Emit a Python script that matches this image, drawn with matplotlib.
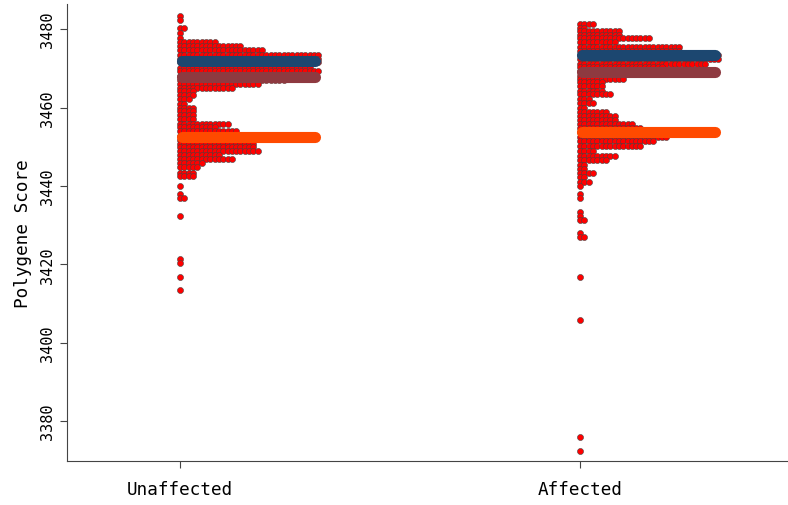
import numpy as np
import matplotlib.pyplot as plt

# stacked dot rows: value of each row and number of dots in it
unaff_vals = [3483.4, 3482.4, 3480.2, 3479.0, 3477.8, 3476.6, 3475.6, 3474.6, 3473.5, 3472.5,
              3471.5, 3470.2, 3469.2, 3468.1, 3467.0, 3466.0, 3465.1, 3464.3, 3463.2, 3462.1,
              3461.0, 3460.0, 3459.0, 3458.0, 3457.0, 3455.9, 3454.9, 3453.9, 3452.8, 3451.8,
              3450.7, 3449.8, 3449.0, 3447.9, 3446.8, 3445.8, 3444.7, 3443.4, 3442.4, 3440.0,
              3437.9, 3436.9, 3432.4, 3421.3, 3420.3, 3416.8, 3413.5]
unaff_counts = [1, 1, 2, 1, 1, 9, 15, 20, 33, 33,
                33, 31, 33, 32, 25, 19, 13, 4, 4, 3,
                2, 4, 4, 4, 4, 12, 9, 14, 18, 18,
                18, 18, 19, 10, 13, 6, 5, 4, 4, 1,
                1, 2, 1, 1, 1, 1, 1]

aff_vals = [3481.4, 3480.4, 3479.4, 3478.5, 3477.7, 3476.7, 3475.5, 3474.5, 3473.4, 3472.3,
            3471.2, 3470.4, 3469.4, 3468.1, 3467.2, 3466.4, 3465.4, 3464.3, 3463.4, 3462.3,
            3461.1, 3460.0, 3458.9, 3457.9, 3456.9, 3455.8, 3454.8, 3453.7, 3452.6, 3451.4,
            3450.2, 3449.0, 3447.7, 3446.6, 3445.4, 3444.3, 3443.3, 3442.2, 3441.1, 3440.0,
            3437.9, 3436.8, 3433.4, 3432.4, 3431.2, 3428.1, 3426.9, 3416.8, 3405.8, 3375.8,
            3372.4]
aff_counts = [4, 2, 10, 10, 17, 9, 24, 24, 33, 33,
              30, 20, 28, 11, 11, 6, 6, 6, 8, 3,
              4, 2, 7, 9, 9, 13, 15, 17, 21, 18,
              15, 4, 9, 7, 2, 2, 4, 2, 3, 1,
              1, 1, 1, 1, 2, 1, 2, 1, 1, 1,
              1]

groups = ['Unaffected', 'Affected']
blue_line = [3471.8, 3473.5]
brown_line = [3467.8, 3469.1]
orange_line = [3452.5, 3453.8]

plt.rcParams['font.family'] = ['DejaVu Sans Mono']

fig = plt.figure(figsize=(7.88, 5.06), dpi=100)
ax = fig.add_axes([0.085, 0.087, 0.915, 0.903])

dx = 0.0108  # horizontal step between dots
for pos, vals, counts in [(1, unaff_vals, unaff_counts), (2, aff_vals, aff_counts)]:
    xs, ys = [], []
    for v, n in zip(vals, counts):
        xs.extend(pos + dx * np.arange(n))
        ys.extend([v] * n)
    ax.scatter(xs, ys, s=19, color='#ff0000', edgecolor='#444444', linewidth=0.4, zorder=2)

for i, pos in enumerate([1, 2]):
    for vals, col in [(blue_line, '#1c4770'), (brown_line, '#8e3a40'), (orange_line, '#ff4a00')]:
        ax.plot([pos + 0.004, pos + 0.338], [vals[i], vals[i]], color=col, lw=8,
                solid_capstyle='round', zorder=3)

ax.set_xlim(0.7175, 2.52)
ax.set_ylim(3369.8, 3486.4)
ax.set_xticks([1, 2])
ax.set_xticklabels(groups, fontsize=12.7)
ax.set_yticks([3380, 3400, 3420, 3440, 3460, 3480])
ax.tick_params(axis='y', labelsize=11, labelrotation=90, length=5, color='#444444')
ax.tick_params(axis='x', length=5, color='#444444', pad=9)
for lab in ax.get_yticklabels():
    lab.set_va('center')
ax.set_ylabel('Polygene Score', fontsize=12.7, labelpad=6)
for side in ['top', 'right']:
    ax.spines[side].set_visible(False)
for side in ['left', 'bottom']:
    ax.spines[side].set_color('#444444')

fig.savefig('out.png', dpi=100)
